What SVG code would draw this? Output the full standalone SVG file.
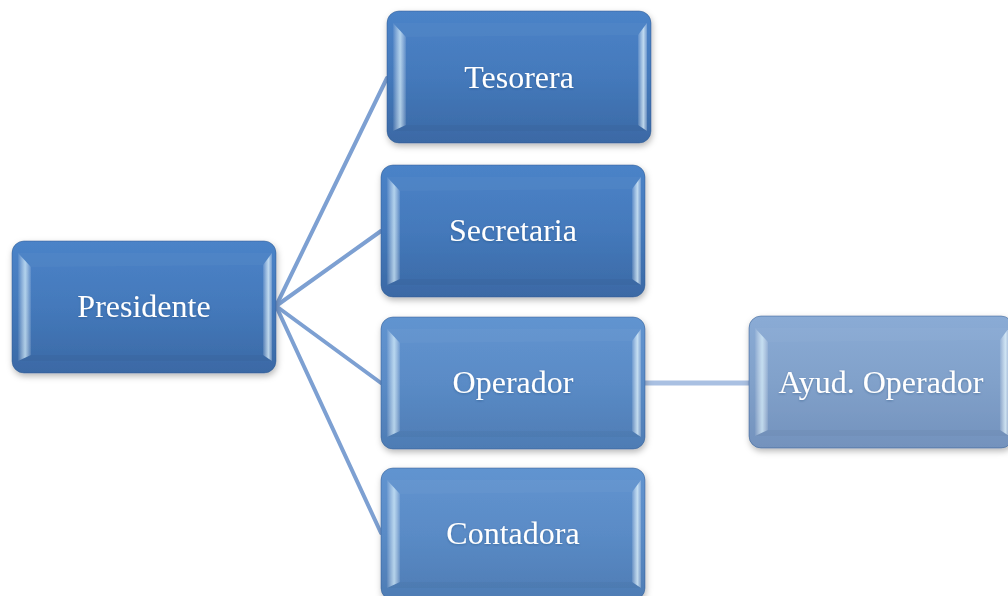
<svg xmlns="http://www.w3.org/2000/svg" width="1008" height="596" viewBox="0 0 1008 596">
<defs>
  <linearGradient id="g1" x1="0" y1="0" x2="0" y2="1">
    <stop offset="0" stop-color="#4b83c8"/>
    <stop offset="0.5" stop-color="#4479bb"/>
    <stop offset="1" stop-color="#3b69a5"/>
  </linearGradient>
  <linearGradient id="g2" x1="0" y1="0" x2="0" y2="1">
    <stop offset="0" stop-color="#6194d0"/>
    <stop offset="0.5" stop-color="#5a8bc6"/>
    <stop offset="1" stop-color="#4e7cb4"/>
  </linearGradient>
  <linearGradient id="g3" x1="0" y1="0" x2="0" y2="1">
    <stop offset="0" stop-color="#8aabd5"/>
    <stop offset="0.5" stop-color="#81a1ca"/>
    <stop offset="1" stop-color="#7392bd"/>
  </linearGradient>
  <linearGradient id="bl" x1="0" y1="0" x2="1" y2="0">
    <stop offset="0" stop-color="#ffffff" stop-opacity="0.05"/>
    <stop offset="0.55" stop-color="#dff6ff" stop-opacity="0.7"/>
    <stop offset="1" stop-color="#ffffff" stop-opacity="0.1"/>
  </linearGradient>
  <linearGradient id="br" x1="0" y1="0" x2="1" y2="0">
    <stop offset="0" stop-color="#ffffff" stop-opacity="0.1"/>
    <stop offset="0.6" stop-color="#e6f8ff" stop-opacity="0.75"/>
    <stop offset="1" stop-color="#ffffff" stop-opacity="0.2"/>
  </linearGradient>
  <filter id="sh" x="-10%" y="-10%" width="125%" height="130%">
    <feDropShadow dx="1" dy="3" stdDeviation="3" flood-color="#000" flood-opacity="0.28"/>
  </filter>
  <filter id="ts" x="-10%" y="-30%" width="120%" height="160%">
    <feDropShadow dx="0" dy="1" stdDeviation="1" flood-color="#1b3b66" flood-opacity="0.35"/>
  </filter>
  <symbol id="bevel" viewBox="0 0 264 132" preserveAspectRatio="none">
    <polygon points="6,12 19,26 19,114 6,120" fill="url(#bl)"/>
    <polygon points="260,12 251,24 251,114 260,120" fill="url(#br)"/>
    <polygon points="6,12 260,12 251,24 19,26" fill="#ffffff" fill-opacity="0.03"/>
    <polygon points="6,120 260,120 251,114 19,114" fill="#000000" fill-opacity="0.03"/>
  </symbol>
</defs>
<style>
  .box { stroke: #2f5a90; stroke-width: 1; stroke-opacity: 0.5; filter: url(#sh); }
  .lbl { font-family: "Liberation Serif", "Times New Roman", serif; font-size: 32px; fill: #ffffff; text-anchor: middle; filter: url(#ts); }
  .con { stroke: #7da0d2; stroke-width: 4; fill: none; stroke-linecap: round; }
  .con2 { stroke: #a9c0e2; stroke-width: 5; fill: none; }
</style>

<g id="connectors">
  <line class="con" x1="276" y1="306" x2="387" y2="78"/>
  <line class="con" x1="276" y1="306" x2="381" y2="231"/>
  <line class="con" x1="276" y1="306" x2="381" y2="383"/>
  <line class="con" x1="276" y1="306" x2="381" y2="533"/>
  <line class="con2" x1="645" y1="383" x2="749" y2="383"/>
</g>

<g id="presidente">
  <rect class="box" x="12" y="241" width="264" height="132" rx="12" fill="url(#g1)"/>
  <use href="#bevel" x="12" y="241" width="264" height="132"/>
  <text class="lbl" x="144" y="317">Presidente</text>
</g>

<g id="tesorera">
  <rect class="box" x="387" y="11" width="264" height="132" rx="12" fill="url(#g1)"/>
  <use href="#bevel" x="387" y="11" width="264" height="132"/>
  <text class="lbl" x="519" y="88">Tesorera</text>
</g>

<g id="secretaria">
  <rect class="box" x="381" y="165" width="264" height="132" rx="12" fill="url(#g1)"/>
  <use href="#bevel" x="381" y="165" width="264" height="132"/>
  <text class="lbl" x="513" y="241">Secretaria</text>
</g>

<g id="operador">
  <rect class="box" x="381" y="317" width="264" height="132" rx="12" fill="url(#g2)"/>
  <use href="#bevel" x="381" y="317" width="264" height="132"/>
  <text class="lbl" x="513" y="393">Operador</text>
</g>

<g id="contadora">
  <rect class="box" x="381" y="468" width="264" height="132" rx="12" fill="url(#g2)"/>
  <use href="#bevel" x="381" y="468" width="264" height="132"/>
  <text class="lbl" x="513" y="544">Contadora</text>
</g>

<g id="ayud-operador">
  <rect class="box" x="749" y="316" width="264" height="132" rx="12" fill="url(#g3)"/>
  <use href="#bevel" x="749" y="316" width="264" height="132"/>
  <text class="lbl" x="881" y="393">Ayud. Operador</text>
</g>
</svg>
